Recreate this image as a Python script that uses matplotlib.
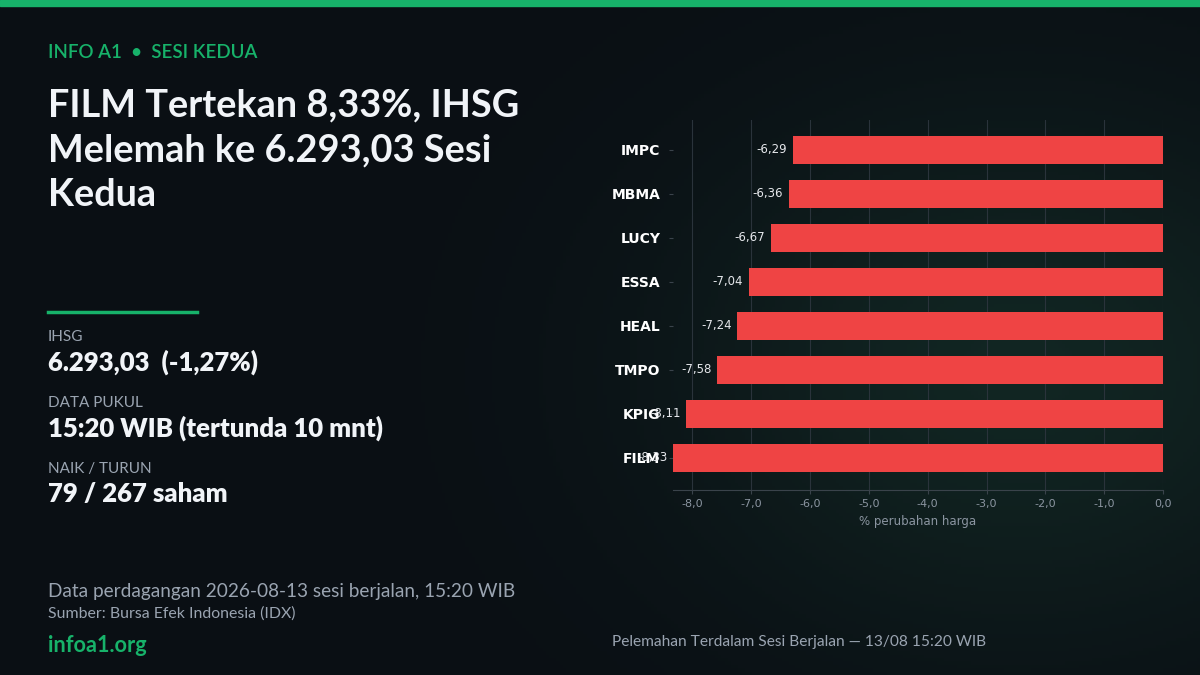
import numpy as np
import matplotlib.pyplot as plt

tickers = ["IMPC", "MBMA", "LUCY", "ESSA", "HEAL", "TMPO", "KPIG", "FILM"]
changes = [-6.29, -6.36, -6.67, -7.04, -7.24, -7.58, -8.11, -8.33]
xticks = [-8.0, -7.0, -6.0, -5.0, -4.0, -3.0, -2.0, -1.0, 0.0]

BG = "#0a0f14"
GREEN = "#17b26a"
RED = "#ef4444"

fig = plt.figure(figsize=(12, 6.75), dpi=100, facecolor=BG)

# subtle greenish glow in the background
bg = fig.add_axes([0, 0, 1, 1], zorder=-10)
yy, xx = np.mgrid[0:1:200j, 0:1:356j]
glow = np.exp(-((xx - 0.85) ** 2 / 0.08 + (yy - 0.55) ** 2 / 0.15))
img = np.zeros((200, 356, 3))
base = np.array([10, 15, 20]) / 255
tint = np.array([18, 40, 36]) / 255
img[:] = base + (tint - base) * glow[..., None] * 0.9
bg.imshow(img, aspect="auto", extent=[0, 1, 0, 1])
bg.axis("off")

# top bar
fig.patches.append(plt.Rectangle((0, 1 - 6 / 675), 1, 6 / 675, transform=fig.transFigure, color=GREEN))

lato = "Lato"
fig.text(48 / 1200, 1 - 53 / 675, "INFO A1  •  SESI KEDUA", color=GREEN, fontsize=13.5, weight="semibold",
         family=lato, va="center")
for i, line in enumerate(["FILM Tertekan 8,33%, IHSG", "Melemah ke 6.293,03 Sesi", "Kedua"]):
    fig.text(48 / 1200, 1 - (105 + 45 * i) / 675, line, color="#f1f4f8", fontsize=27.3, weight="bold",
             family=lato, va="center")

fig.add_artist(plt.Line2D([48 / 1200, 197 / 1200], [1 - 312 / 675] * 2, color=GREEN, lw=2.5))
stats = [("IHSG", "6.293,03  (-1,27%)", 337), ("DATA PUKUL", "15:20 WIB (tertunda 10 mnt)", 403),
         ("NAIK / TURUN", "79 / 267 saham", 469)]
for lab, val, y in stats:
    fig.text(48 / 1200, 1 - y / 675, lab, color="#9aa4b1", fontsize=11, family=lato, va="center")
    fig.text(48 / 1200, 1 - (y + 25) / 675, val, color="#f1f4f8", fontsize=18.5, weight="heavy", family=lato,
             va="center")

fig.text(48 / 1200, 1 - 592 / 675, "Data perdagangan 2026-08-13 sesi berjalan, 15:20 WIB", color="#9aa4b1",
         fontsize=13.7, family=lato, va="center")
fig.text(48 / 1200, 1 - 614 / 675, "Sumber: Bursa Efek Indonesia (IDX)", color="#9aa4b1", fontsize=11.4,
         family=lato, va="center")
fig.text(48 / 1200, 1 - 645 / 675, "infoa1.org", color=GREEN, fontsize=15.6, weight="bold", family=lato, va="center")
fig.text(612 / 1200, 1 - 642 / 675, "Pelemahan Terdalam Sesi Berjalan — 13/08 15:20 WIB", color="#9aa4b1",
         fontsize=11.2, family=lato, va="center")

# chart
ax = fig.add_axes([673 / 1200, 1 - 490 / 675, (1163 - 673) / 1200, 370 / 675])
ax.set_facecolor("none")
y = np.arange(len(tickers))
ax.barh(y, changes, height=0.62, color=RED, zorder=3)
ax.set_yticks(y)
ax.set_yticklabels(tickers, color="white", fontsize=10, weight="bold")
ax.set_ylim(len(tickers) - 1 + 0.73, -0.68)
ax.set_xlim(min(changes), 0)
ax.set_xticks(xticks)
ax.set_xticklabels([f"{t:.1f}".replace(".", ",") for t in xticks], color="#8b95a1", fontsize=8)
ax.set_xlabel("% perubahan harga", color="#8b95a1", fontsize=8.5, labelpad=4)
ax.grid(axis="x", color="#2a333b", lw=0.8, zorder=0)
ax.tick_params(axis="y", length=3, color="#3a434b", pad=6)
ax.tick_params(axis="x", length=3, color="#3a434b")
for s in ["top", "right", "left"]:
    ax.spines[s].set_visible(False)
ax.spines["bottom"].set_color("#3a434b")
for yi, v in zip(y, changes):
    ax.annotate(f"{v:.2f}".replace(".", ","), (v, yi), xytext=(-4, 0), textcoords="offset points",
                ha="right", va="center", color="#e5e7eb", fontsize=8.5)

fig.savefig("out.png", dpi=100, facecolor=BG)
